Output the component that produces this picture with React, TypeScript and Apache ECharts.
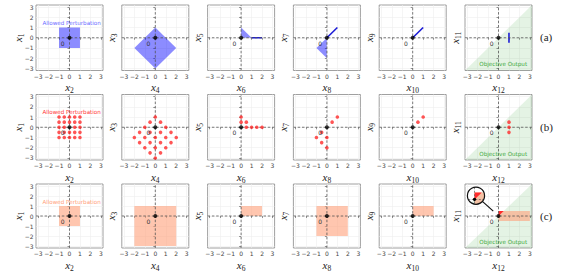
import React, { useEffect, useRef } from 'react';
import * as echarts from 'echarts';

// ---------- axes ----------
const TICKS = [-3, -2, -1, 0, 1, 2, 3];
const AX_MIN = -3.2;
const AX_MAX = 3.2;
const X_SUBS = ['2', '4', '6', '8', '10', '12'];
const Y_SUBS = ['1', '3', '5', '7', '9', '11'];
const ROW_LABELS = ['(a)', '(b)', '(c)'];

// ---------- common annotations ----------
const ORIGIN = [[0, 0]];
const ZERO_LABEL_POS = [-0.65, -0.55];
const PERTURB_TEXT = 'Allowed Perturbation';
const PERTURB_POS = [0.2, 1.45];
const OBJ_TEXT = 'Objective Output';
const OBJ_POS = [0.45, -2.6];
const OBJECTIVE = [[-3.2, -3.2], [3.2, 3.2], [3.2, -3.2]];

// ---------- row (a) ----------
const A_SQUARE = [[-1, -1], [1, -1], [1, 1], [-1, 1]];
const A_DIAMOND = [[0, 1], [2, -1], [0, -3], [-2, -1]];
const A_TRI_56 = [[0, 0], [0, 1], [1, 0]];
const A_SEG_56 = [[1, 0], [2, 0]];
const A_TRI_78 = [[0, 0], [-1, -1], [0, -2]];
const A_SEG_78 = [[0, 0], [1, 1]];
const A_SEG_910 = [[0, 0], [1, 1]];
const A_SEG_1112 = [[1, -0.5], [1, 0.5]];

// ---------- row (b) ----------
const B_PTS_12 = [
  [-1, 1], [-0.5, 1], [0, 1], [0.5, 1], [1, 1],
  [-1, 0.5], [-0.5, 0.5], [0, 0.5], [0.5, 0.5], [1, 0.5],
  [-1, 0], [-0.5, 0], [0.5, 0], [1, 0],
  [-1, -0.5], [-0.5, -0.5], [0, -0.5], [0.5, -0.5], [1, -0.5],
  [-1, -1], [-0.5, -1], [0, -1], [0.5, -1], [1, -1],
];
const B_PTS_34 = [
  [0, 1], [-0.5, 0.5], [0.5, 0.5], [-1, 0], [1, 0],
  [-1.5, -0.5], [-0.5, -0.5], [0.5, -0.5], [1.5, -0.5],
  [-2, -1], [-1, -1], [0, -1], [1, -1], [2, -1],
  [-1.5, -1.5], [-0.5, -1.5], [0.5, -1.5], [1.5, -1.5],
  [-1, -2], [0, -2], [1, -2], [-0.5, -2.5], [0.5, -2.5], [0, -3],
];
const B_PTS_56 = [[0, 1], [0, 0.5], [0.5, 0.5], [0.5, 0], [1, 0], [1.5, 0], [2, 0]];
const B_PTS_78 = [[1, 1], [0.5, 0.5], [-0.5, -0.5], [-1, -1], [0, -1], [-0.5, -1.5], [0, -2]];
const B_PTS_910 = [[0.5, 0.5], [1, 1]];
const B_PTS_1112 = [[1, 0.5], [1, 0], [1, -0.5]];

// ---------- row (c) ----------
const C_RECTS = [
  [[-1, -1], [1, 1]],
  [[-2, -3], [2, 1]],
  [[0, 0], [2, 1]],
  [[-1, -2], [2, 1]],
  [[0, 0], [2, 1]],
  [[0, -0.5], [3, 0.5]],
];
const C_RED_TRI = [[0, 0], [0, 0.5], [0.5, 0.5]];
const INSET_CENTER = [-2.15, 2.03];
const INSET_RADIUS = 0.82;
const INSET_FOCUS = [0.1, 0.27];
const INSET_MAG = 1.4;
const INSET_LINE_END = [-0.5, 0.49];

// ---------- colours ----------
const BLUE_FILL = 'rgba(0,0,255,0.45)';
const BLUE_LINE = '#1c1cd6';
const RED = '#ff2b2b';
const SALMON = 'rgba(255,160,122,0.6)';
const GREEN_FILL = 'rgba(44,160,44,0.13)';
const ROW_TEXT_COLORS = ['#6b6bff', '#ff3535', '#ffa07a'];

const LEFT0 = 36;
const COL_STEP = 85.8;
const TOP0 = 5;
const ROW_STEP = 89.5;
const GW = 67;
const GH = 65.5;

const fmt = (v: number) => (v < 0 ? '\u2212' + -v : String(v));

function rectPts(r: number[][]) {
  const [[x0, y0], [x1, y1]] = r;
  return [[x0, y0], [x1, y0], [x1, y1], [x0, y1]];
}

function polySeries(gi: number, pts: number[][], fill: string, z = 2) {
  return {
    type: 'custom', xAxisIndex: gi, yAxisIndex: gi, data: [[0, 0]], z, silent: true, clip: true,
    renderItem: (_p: any, api: any) => ({
      type: 'polygon',
      shape: { points: pts.map((p) => api.coord(p)) },
      style: { fill },
    }),
  };
}

function lineSeries(gi: number, pts: number[][], stroke: string, width: number, z = 4) {
  return {
    type: 'custom', xAxisIndex: gi, yAxisIndex: gi, data: [[0, 0]], z, silent: true, clip: true,
    renderItem: (_p: any, api: any) => ({
      type: 'polyline',
      shape: { points: pts.map((p) => api.coord(p)) },
      style: { stroke, lineWidth: width, fill: null },
    }),
  };
}

function textSeries(gi: number, pos: number[], text: string, color: string, size: number, z = 6) {
  return {
    type: 'custom', xAxisIndex: gi, yAxisIndex: gi, data: [[0, 0]], z, silent: true,
    renderItem: (_p: any, api: any) => {
      const c = api.coord(pos);
      return {
        type: 'text', x: c[0], y: c[1],
        style: { text, fill: color, fontSize: size, fontFamily: 'DejaVu Sans', align: 'center', verticalAlign: 'middle' },
      };
    },
  };
}

function crossSeries(gi: number) {
  return {
    type: 'custom', xAxisIndex: gi, yAxisIndex: gi, data: [[0, 0]], z: 5, silent: true,
    renderItem: (_p: any, api: any) => {
      const a = api.coord([AX_MIN, 0]);
      const b = api.coord([AX_MAX, 0]);
      const c = api.coord([0, AX_MIN]);
      const d = api.coord([0, AX_MAX]);
      const st = { stroke: '#555', lineWidth: 0.8, lineDash: [2.5, 1.8] };
      return {
        type: 'group',
        children: [
          { type: 'line', shape: { x1: a[0], y1: a[1], x2: b[0], y2: b[1] }, style: st },
          { type: 'line', shape: { x1: c[0], y1: c[1], x2: d[0], y2: d[1] }, style: st },
        ],
      };
    },
  };
}

function scatter(gi: number, pts: number[][], color: string, size: number, z = 7) {
  return {
    type: 'scatter', xAxisIndex: gi, yAxisIndex: gi, data: pts, symbolSize: size, z, silent: true,
    itemStyle: { color },
  };
}

// polygon clip (Sutherland-Hodgman) against convex polygon
function clipPoly(subject: number[][], clip: number[][]) {
  let out = subject;
  const n = clip.length;
  let area = 0;
  for (let i = 0; i < n; i++) {
    const p = clip[i], q = clip[(i + 1) % n];
    area += p[0] * q[1] - q[0] * p[1];
  }
  const sgn = area > 0 ? 1 : -1;
  for (let i = 0; i < n; i++) {
    const a = clip[i], b = clip[(i + 1) % n];
    const inside = (p: number[]) => sgn * ((b[0] - a[0]) * (p[1] - a[1]) - (b[1] - a[1]) * (p[0] - a[0])) >= 0;
    const inter = (p: number[], q: number[]) => {
      const x1 = p[0], y1 = p[1], x2 = q[0], y2 = q[1];
      const x3 = a[0], y3 = a[1], x4 = b[0], y4 = b[1];
      const den = (x1 - x2) * (y3 - y4) - (y1 - y2) * (x3 - x4);
      const t = ((x1 - x3) * (y3 - y4) - (y1 - y3) * (x3 - x4)) / den;
      return [x1 + t * (x2 - x1), y1 + t * (y2 - y1)];
    };
    const input = out;
    out = [];
    if (!input.length) break;
    for (let j = 0; j < input.length; j++) {
      const cur = input[j];
      const prev = input[(j + input.length - 1) % input.length];
      if (inside(cur)) {
        if (!inside(prev)) out.push(inter(prev, cur));
        out.push(cur);
      } else if (inside(prev)) {
        out.push(inter(prev, cur));
      }
    }
  }
  return out;
}

function insetSeries(gi: number) {
  return {
    type: 'custom', xAxisIndex: gi, yAxisIndex: gi, data: [[0, 0]], z: 9, silent: true,
    renderItem: (_p: any, api: any) => {
      const C = api.coord(INSET_CENTER);
      const unit = api.size([1, 1]);
      const R = unit[0] * INSET_RADIUS;
      const kx = unit[0] * INSET_MAG;
      const ky = unit[1] * INSET_MAG;
      const map = (p: number[]) => [C[0] + (p[0] - INSET_FOCUS[0]) * kx, C[1] - (p[1] - INSET_FOCUS[1]) * ky];
      const circ: number[][] = [];
      for (let i = 0; i < 72; i++) {
        const t = (i / 72) * Math.PI * 2;
        circ.push([C[0] + R * Math.cos(t), C[1] + R * Math.sin(t)]);
      }
      const clipped = (pts: number[][]) => clipPoly(pts.map(map), circ);
      const o = map([0, 0]);
      const st = { stroke: '#555', lineWidth: 0.7, lineDash: [2, 1.5] };
      const hx = Math.sqrt(Math.max(0, R * R - (o[1] - C[1]) ** 2));
      const vy = Math.sqrt(Math.max(0, R * R - (o[0] - C[0]) ** 2));
      const end = api.coord(INSET_LINE_END);
      const dx = end[0] - C[0], dy = end[1] - C[1];
      const dl = Math.sqrt(dx * dx + dy * dy);
      const start = [C[0] + (dx / dl) * R, C[1] + (dy / dl) * R];
      return {
        type: 'group',
        children: [
          { type: 'circle', shape: { cx: C[0], cy: C[1], r: R }, style: { fill: '#fff' } },
          { type: 'polygon', shape: { points: clipped(OBJECTIVE) }, style: { fill: GREEN_FILL } },
          { type: 'polygon', shape: { points: clipped(rectPts(C_RECTS[5])) }, style: { fill: SALMON } },
          { type: 'polygon', shape: { points: clipped(C_RED_TRI) }, style: { fill: RED } },
          { type: 'line', shape: { x1: C[0] - hx, y1: o[1], x2: C[0] + hx, y2: o[1] }, style: st },
          { type: 'line', shape: { x1: o[0], y1: C[1] - vy, x2: o[0], y2: C[1] + vy }, style: st },
          { type: 'circle', shape: { cx: o[0], cy: o[1], r: 1.6 }, style: { fill: '#000' } },
          { type: 'circle', shape: { cx: C[0], cy: C[1], r: R }, style: { fill: null, stroke: '#111', lineWidth: 1.2 } },
          { type: 'line', shape: { x1: start[0], y1: start[1], x2: end[0], y2: end[1] }, style: { stroke: '#111', lineWidth: 1.2 } },
        ],
      };
    },
  };
}

function buildOption() {
  const grids: any[] = [];
  const xAxes: any[] = [];
  const yAxes: any[] = [];
  const series: any[] = [];
  const nameRich = {
    i: { fontFamily: 'Liberation Serif', fontStyle: 'italic', fontWeight: 'normal', fontSize: 11, color: '#222', lineHeight: 11, verticalAlign: 'top' },
    s: { fontFamily: 'Liberation Serif', fontWeight: 'normal', fontSize: 7.5, color: '#222', lineHeight: 7, verticalAlign: 'top', padding: [5, 0, 0, 0] },
  };
  for (let r = 0; r < 3; r++) {
    for (let c = 0; c < 6; c++) {
      const gi = r * 6 + c;
      grids.push({
        left: LEFT0 + COL_STEP * c, top: TOP0 + ROW_STEP * r, width: GW, height: GH,
        show: true, borderColor: '#888', borderWidth: 0.8, backgroundColor: 'transparent', containLabel: false,
      });
      const common = {
        type: 'value', gridIndex: gi, min: AX_MIN, max: AX_MAX,
        axisLine: { show: false },
        axisTick: { show: true, customValues: TICKS, length: 2, lineStyle: { color: '#666', width: 0.7 } },
        splitLine: { show: true, lineStyle: { color: '#eeeeee', width: 0.6 } },
        nameLocation: 'middle',
        nameMoveOverlap: false,
        nameTextStyle: { fontWeight: 'normal', rich: nameRich },
      };
      xAxes.push({
        ...common,
        axisLabel: { customValues: TICKS, fontSize: 6, color: '#444', margin: 2.5, fontFamily: 'DejaVu Sans', formatter: fmt },
        name: `{i|x}{s|${X_SUBS[c]}}`,
        nameGap: 11,
      });
      yAxes.push({
        ...common,
        axisLabel: { show: c === 0, customValues: TICKS, fontSize: 6, color: '#444', margin: 2.5, fontFamily: 'DejaVu Sans', formatter: fmt },
        name: `{i|x}{s|${Y_SUBS[c]}}`,
        nameGap: c === 0 ? 13 : 5,
        nameRotate: 90,
      });
      series.push(crossSeries(gi));
      series.push(scatter(gi, ORIGIN, '#000', 4, 8));
      series.push(textSeries(gi, ZERO_LABEL_POS, '0', '#333', 6, 9));
      if (c === 5) {
        series.push(polySeries(gi, OBJECTIVE, GREEN_FILL, 1));
        series.push(textSeries(gi, OBJ_POS, OBJ_TEXT, '#3aa83a', 5.6));
      }
      if (c === 0) {
        series.push(textSeries(gi, PERTURB_POS, PERTURB_TEXT, ROW_TEXT_COLORS[r], 5.6));
      }
    }
  }
  // row (a)
  series.push(polySeries(0, A_SQUARE, BLUE_FILL));
  series.push(polySeries(1, A_DIAMOND, BLUE_FILL));
  series.push(polySeries(2, A_TRI_56, BLUE_FILL));
  series.push(lineSeries(2, A_SEG_56, BLUE_LINE, 1.6));
  series.push(polySeries(3, A_TRI_78, BLUE_FILL));
  series.push(lineSeries(3, A_SEG_78, BLUE_LINE, 1.6));
  series.push(lineSeries(4, A_SEG_910, BLUE_LINE, 1.6));
  series.push(lineSeries(5, A_SEG_1112, BLUE_LINE, 1.6));
  // row (b)
  [B_PTS_12, B_PTS_34, B_PTS_56, B_PTS_78, B_PTS_910, B_PTS_1112].forEach((pts, c) => {
    series.push(scatter(6 + c, pts, RED, 3.6, 7));
  });
  // row (c)
  C_RECTS.forEach((rc, c) => {
    series.push(polySeries(12 + c, rectPts(rc), SALMON, 2));
  });
  series.push(polySeries(17, C_RED_TRI, RED, 3));
  series.push(insetSeries(17));

  const graphic = ROW_LABELS.map((t, r) => ({
    type: 'text',
    left: 540,
    top: TOP0 + ROW_STEP * r + GH / 2 - 6,
    style: { text: t, fontFamily: 'Liberation Serif', fontSize: 11, fill: '#222' },
    silent: true,
  }));

  return { animation: false, grid: grids, xAxis: xAxes, yAxis: yAxes, series, graphic };
}

export default function App() {
  const ref = useRef<HTMLDivElement>(null);
  useEffect(() => {
    document.body.style.margin = '0';
    if (!ref.current) return;
    const chart = echarts.init(ref.current, undefined, { renderer: 'svg' });
    chart.setOption(buildOption() as any);
    return () => chart.dispose();
  }, []);
  return <div ref={ref} style={{ width: 568, height: 273, background: '#fff' }} />;
}
